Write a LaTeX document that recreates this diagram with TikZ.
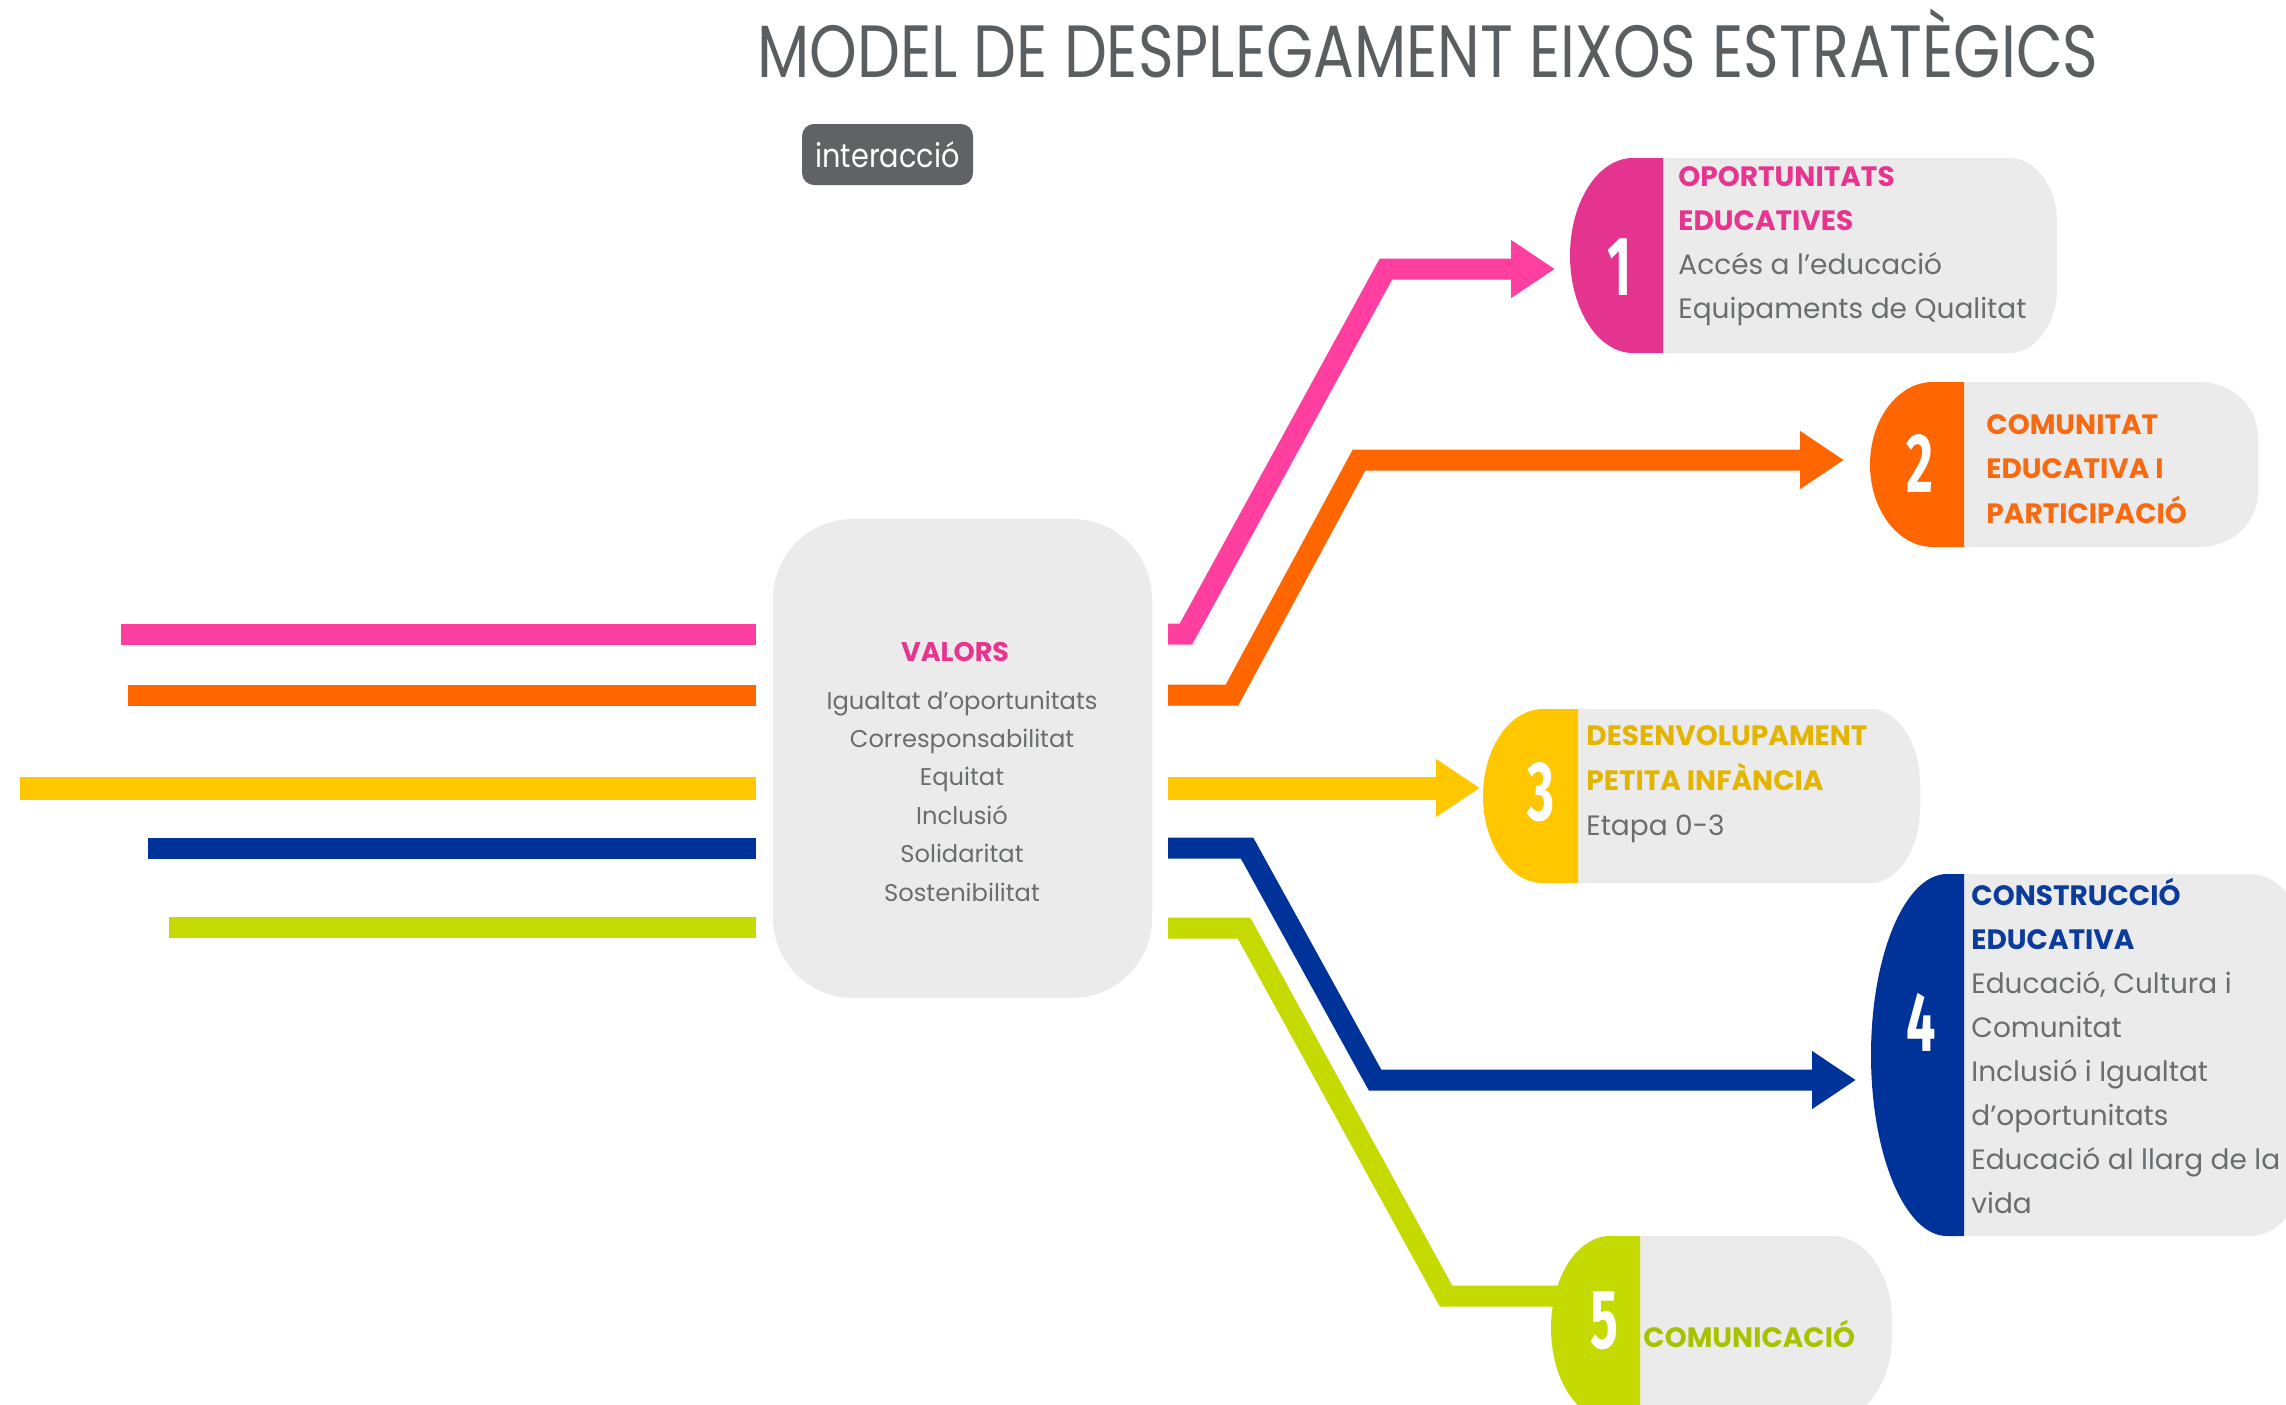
\documentclass[tikz,border=0pt]{standalone}
\usepackage{fontspec}
\usetikzlibrary{arrows.meta}
\setmainfont{Poppins}
\newfontfamily\titlefont{Poppins}[FakeStretch=0.82]
\newfontfamily\badgefont{Poppins}[FakeStretch=0.87]
\newfontfamily\numfont{Fira Sans}[FakeStretch=0.62]
\definecolor{cpink}{HTML}{FF3FA0}
\definecolor{corange}{HTML}{FF6600}
\definecolor{cyellow}{HTML}{FFC700}
\definecolor{cblue}{HTML}{003399}
\definecolor{cgreen}{HTML}{C4DA00}
\definecolor{bpink}{HTML}{E5348F}
\definecolor{tpink}{HTML}{E6348F}
\definecolor{torange}{HTML}{F86A12}
\definecolor{tyellow}{HTML}{E3B500}
\definecolor{tblue}{HTML}{0B3C9B}
\definecolor{tgreen}{HTML}{A9C200}
\definecolor{cgrey}{HTML}{EBEBEB}
\definecolor{ctext}{HTML}{6A6C6E}
\definecolor{ctitle}{HTML}{5B5E61}
\definecolor{cbadge}{HTML}{606265}
% #1 colour, #2 xl, #3 xc, #4 xr, #5 top, #6 bottom, #7 left radius, #8 rx, #9 ry
\newcommand\axisbox[9]{%
  \fill[cgrey] (#3,#5) -- ({#4-#8},#5)
     arc[start angle=-90,end angle=0,x radius=#8,y radius=#9]
     -- (#4,{#6-#9})
     arc[start angle=0,end angle=90,x radius=#8,y radius=#9]
     -- (#3,#6) -- cycle;
  \fill[#1] (#3,#5) -- (#3,#6) -- ({#2+#7},#6)
     arc[start angle=90,end angle=180,x radius=#7,y radius={(#6-#5)/2}]
     arc[start angle=180,end angle=270,x radius=#7,y radius={(#6-#5)/2}]
     -- cycle;
}
\begin{document}
\begin{tikzpicture}[x=0.5pt,y=-0.5pt,
  band/.style={line width=10.5pt},
  tipped/.style={band,-{Triangle[length=22pt,width=27.5pt]}},
  head/.style={anchor=base west,inner sep=0pt,font=\bfseries\fontsize{14}{14}\selectfont},
  body/.style={anchor=base west,inner sep=0pt,text=ctext,font=\fontsize{14}{14}\selectfont},
  numtxt/.style={inner sep=0pt,text=white,font=\numfont\bfseries\fontsize{42}{42}\selectfont},
  valh/.style={anchor=base,inner sep=0pt,text=tpink,font=\bfseries\fontsize{13.5}{13.5}\selectfont},
  vali/.style={anchor=base,inner sep=0pt,text=ctext,font=\fontsize{12.1}{12.1}\selectfont},
  valbox/.style={fill=cgrey,rounded corners=40pt,minimum width=189.5pt,minimum height=239.5pt,inner sep=0pt},
  badge/.style={fill=cbadge,rounded corners=6pt,minimum width=85.5pt,minimum height=30.5pt,inner sep=0pt,text=white,font=\badgefont\fontsize{16.5}{16.5}\selectfont},
  titlestyle/.style={anchor=base,inner sep=0pt,text=ctitle,font=\titlefont\fontsize{37}{37}\selectfont}]
\useasboundingbox (0,0) rectangle (2286,1404);
\clip (0,0) rectangle (2286,1404);
\fill[white] (0,0) rectangle (2286,1404);

% title and badge
\node[titlestyle] (title) at (1428,77) {MODEL DE DESPLEGAMENT EIXOS ESTRATÈGICS};
\node[badge] (int) at (887.5,154.5) {interacció};

% central box
\node[valbox] (val) at (962.5,758.5) {};
\node[valh] (vh) at (955,661) {VALORS};
\foreach \t [count=\i from 0] in {Igualtat d’oportunitats,Corresponsabilitat,Equitat,Inclusió,Solidaritat,Sostenibilitat}
  \node[vali] (vi\i) at (962,{709+38.4*\i}) {\t};

% incoming lines on the left
\coordinate (lp0) at (121,634);  \coordinate (lp1) at (756,634);
\coordinate (lo0) at (128,695);  \coordinate (lo1) at (756,695);
\coordinate (ly0) at (20,788);   \coordinate (ly1) at (756,788);
\coordinate (lb0) at (148,848);  \coordinate (lb1) at (756,848);
\coordinate (lg0) at (169,927);  \coordinate (lg1) at (756,927);
\draw[band,cpink]   (lp0) -- (lp1);
\draw[band,corange] (lo0) -- (lo1);
\draw[band,cyellow,line width=11.5pt] (ly0) -- (ly1);
\draw[band,cblue]   (lb0) -- (lb1);
\draw[band,cgreen]  (lg0) -- (lg1);

% outgoing connectors
\coordinate (p0) at (1168,634); \coordinate (p1) at (1186,634); \coordinate (p2) at (1386,269); \coordinate (p3) at (1555,269);
\coordinate (o0) at (1168,695); \coordinate (o1) at (1232,695); \coordinate (o2) at (1359,460); \coordinate (o3) at (1844,460);
\coordinate (y0) at (1168,788); \coordinate (y3) at (1480,788);
\coordinate (b0) at (1168,848); \coordinate (b1) at (1247,848); \coordinate (b2) at (1375,1080); \coordinate (b3) at (1856,1080);
\coordinate (g0) at (1168,928); \coordinate (g1) at (1244,928); \coordinate (g2) at (1446,1296); \coordinate (g3) at (1575,1296);
\draw[tipped,cpink]   (p0) -- (p1) -- (p2) -- (p3);
\draw[tipped,corange] (o0) -- (o1) -- (o2) -- (o3);
\draw[tipped,cyellow,line width=11.5pt] (y0) -- (y3);
\draw[tipped,cblue]   (b0) -- (b1) -- (b2) -- (b3);
\draw[band,cgreen]    (g0) -- (g1) -- (g2) -- (g3);

% axis boxes
\axisbox{bpink}{1570}{1663}{2057}{158}{353}{63}{48}{64}
\axisbox{corange}{1870}{1964}{2258}{382}{547}{63}{58}{55}
\axisbox{cyellow}{1483}{1578}{1920}{709}{883}{60}{50}{74}
\axisbox{cblue}{1871}{1964}{2300}{874}{1236}{76}{50}{60}
\axisbox{cgreen}{1551}{1640}{1892}{1236}{1420}{59}{60}{84}

\node[numtxt] (n1) at (1620,267) {1};
\node[numtxt] (n2) at (1920,464) {2};
\node[numtxt] (n3) at (1541,792) {3};
\node[numtxt] (n4) at (1921,1022) {4};
\node[numtxt] (n5) at (1604,1321) {5};

% box 1
\node[head,text=tpink] (h1a) at (1678,186) {OPORTUNITATS};
\node[head,text=tpink] (h1b) at (1678,230) {EDUCATIVES};
\node[body] (t1a) at (1678,274) {Accés a l’educació};
\node[body] (t1b) at (1678,318) {Equipaments de Qualitat};
% box 2
\node[head,text=torange] (h2a) at (1986,434) {COMUNITAT};
\node[head,text=torange] (h2b) at (1986,478) {EDUCATIVA I};
\node[head,text=torange] (h2c) at (1986,523) {PARTICIPACIÓ};
% box 3
\node[head,text=tyellow] (h3a) at (1586,745) {DESENVOLUPAMENT};
\node[head,text=tyellow] (h3b) at (1586,790) {PETITA INFÀNCIA};
\node[body] (t3a) at (1586,835) {Etapa 0-3};
% box 4
\node[head,text=tblue] (h4a) at (1971,905) {CONSTRUCCIÓ};
\node[head,text=tblue] (h4b) at (1971,949) {EDUCATIVA};
\node[body] (t4a) at (1971,993) {Educació, Cultura i};
\node[body] (t4b) at (1971,1037) {Comunitat};
\node[body] (t4c) at (1971,1081) {Inclusió i Igualtat};
\node[body] (t4d) at (1971,1125) {d’oportunitats};
\node[body] (t4e) at (1971,1169) {Educació al llarg de la};
\node[body] (t4f) at (1971,1213) {vida};
% box 5
\node[head,text=tgreen] (h5a) at (1643,1347) {COMUNICACIÓ};
\end{tikzpicture}
\end{document}
